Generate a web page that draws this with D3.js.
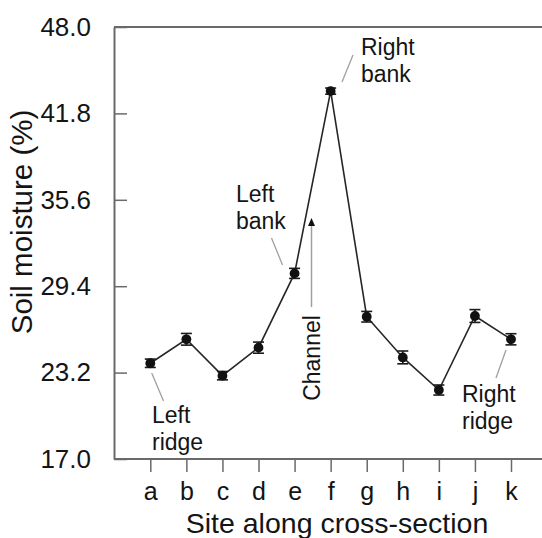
<!DOCTYPE html>
<html>
<head>
<meta charset="utf-8">
<script src="https://cdn.jsdelivr.net/npm/d3@7"></script>
<style>
  html, body { margin: 0; padding: 0; background: #fff; }
  svg { display: block; font-family: "Liberation Sans", Arial, Helvetica, sans-serif; }
</style>
</head>
<body>
<svg id="chart" width="542" height="538"></svg>
<script>
// ---- data ----
const sites = ["a", "b", "c", "d", "e", "f", "g", "h", "i", "j", "k"];
const moisture = [23.87, 25.59, 22.98, 24.99, 30.32, 43.4, 27.21, 24.29, 21.95, 27.26, 25.59];
const stdErr = [0.3, 0.42, 0.3, 0.4, 0.36, 0.22, 0.38, 0.46, 0.36, 0.46, 0.4];
const yTicks = [17.0, 23.2, 29.4, 35.6, 41.8, 48.0];
const yDomain = [17.0, 48.0];
const xLabel = "Site along cross-section";
const yLabel = "Soil moisture (%)";
const annotations = [
  { site: "a", lines: ["Left", "ridge"] },
  { site: "e", lines: ["Left", "bank"] },
  { site: "f", lines: ["Right", "bank"] },
  { site: "k", lines: ["Right", "ridge"] }
];
const channelLabel = "Channel";

// ---- layout ----
const svg = d3.select("#chart");
const pL = 114, pT = 27, pB = 459, pR = 542;

const x = d3.scalePoint().domain(sites).range([150.3, 511]);
const y = d3.scaleLinear().domain(yDomain).range([pB, pT]);

const axisColor = "#6a6a6a";
const textColor = "#141414";

// top frame line
svg.append("line").attr("x1", pL).attr("x2", pR).attr("y1", pT).attr("y2", pT)
  .attr("stroke", axisColor).attr("stroke-width", 2);

// y axis
const yAxis = d3.axisLeft(y).tickValues(yTicks).tickFormat(d3.format(".1f")).tickSizeInner(-13).tickSizeOuter(0).tickPadding(23);
const gy = svg.append("g").attr("transform", `translate(${pL},0)`).call(yAxis);
gy.select(".domain").attr("stroke", axisColor).attr("stroke-width", 2);
gy.selectAll(".tick line").attr("stroke", axisColor).attr("stroke-width", 1.5);
gy.selectAll(".tick text").attr("fill", textColor).attr("font-size", 26).attr("font-family", "Liberation Sans, Arial, sans-serif");

// x axis
const xAxis = d3.axisBottom(x).tickSizeInner(13).tickSizeOuter(0).tickPadding(10);
const gx = svg.append("g").attr("transform", `translate(0,${pB})`).call(xAxis);
gx.select(".domain").attr("d", `M${pL},0H${pR}`).attr("stroke", axisColor).attr("stroke-width", 2);
gx.selectAll(".tick line").attr("stroke", axisColor).attr("stroke-width", 1.5);
gx.selectAll(".tick text").attr("fill", textColor).attr("font-size", 25).attr("font-family", "Liberation Sans, Arial, sans-serif");

// axis titles
svg.append("text").attr("x", 337).attr("y", 533).attr("text-anchor", "middle")
  .attr("font-size", 28.5).attr("fill", textColor).text(xLabel);
svg.append("text").attr("transform", `translate(32,222) rotate(-90)`)
  .attr("text-anchor", "middle").attr("font-size", 29.5).attr("fill", textColor).text(yLabel);

// data line
const pts = sites.map((s, i) => ({ s, v: moisture[i], e: stdErr[i] }));
svg.append("path").datum(pts)
  .attr("d", d3.line().x(d => x(d.s)).y(d => y(d.v)))
  .attr("fill", "none").attr("stroke", "#262626").attr("stroke-width", 1.6);

// error bars
const eb = svg.append("g").attr("stroke", "#1a1a1a").attr("stroke-width", 1.6);
pts.forEach(d => {
  const cx = x(d.s);
  eb.append("line").attr("x1", cx).attr("x2", cx).attr("y1", y(d.v - d.e)).attr("y2", y(d.v + d.e));
  eb.append("line").attr("x1", cx - 5.5).attr("x2", cx + 5.5).attr("y1", y(d.v - d.e)).attr("y2", y(d.v - d.e));
  eb.append("line").attr("x1", cx - 5.5).attr("x2", cx + 5.5).attr("y1", y(d.v + d.e)).attr("y2", y(d.v + d.e));
});

// markers
svg.append("g").selectAll("circle").data(pts).join("circle")
  .attr("cx", d => x(d.s)).attr("cy", d => y(d.v)).attr("r", 4.9).attr("fill", "#111");

// annotations
const leaderColor = "#a0a0a0";
const annPos = {
  a: { tx: 152, ty: 423, l: [[151.7, 373], [163.5, 401]] },
  e: { tx: 236, ty: 202, l: [[271.5, 238], [282.5, 265]] },
  f: { tx: 361, ty: 55, l: [[353, 55], [342, 82]] },
  k: { tx: 462, ty: 402, l: [[506, 350], [496, 378]] }
};
annotations.forEach(a => {
  const p = annPos[a.site];
  svg.append("line").attr("x1", p.l[0][0]).attr("y1", p.l[0][1]).attr("x2", p.l[1][0]).attr("y2", p.l[1][1])
    .attr("stroke", leaderColor).attr("stroke-width", 1.3);
  const t = svg.append("text").attr("x", p.tx).attr("y", p.ty).attr("font-size", 23).attr("fill", textColor);
  a.lines.forEach((ln, i) => t.append("tspan").attr("x", p.tx).attr("dy", i === 0 ? 0 : 26.5).text(ln));
});

// channel arrow + label
const chX = 311.5;
svg.append("line").attr("x1", chX).attr("x2", chX).attr("y1", 307).attr("y2", 224)
  .attr("stroke", leaderColor).attr("stroke-width", 1.5);
svg.append("path").attr("d", `M${chX},218 L${chX - 3.5},226 L${chX + 3.5},226 Z`).attr("fill", "#111");
svg.append("text").attr("transform", `translate(${chX + 8},358) rotate(-90)`)
  .attr("text-anchor", "middle").attr("font-size", 23).attr("fill", textColor).text(channelLabel);
</script>
</body>
</html>
